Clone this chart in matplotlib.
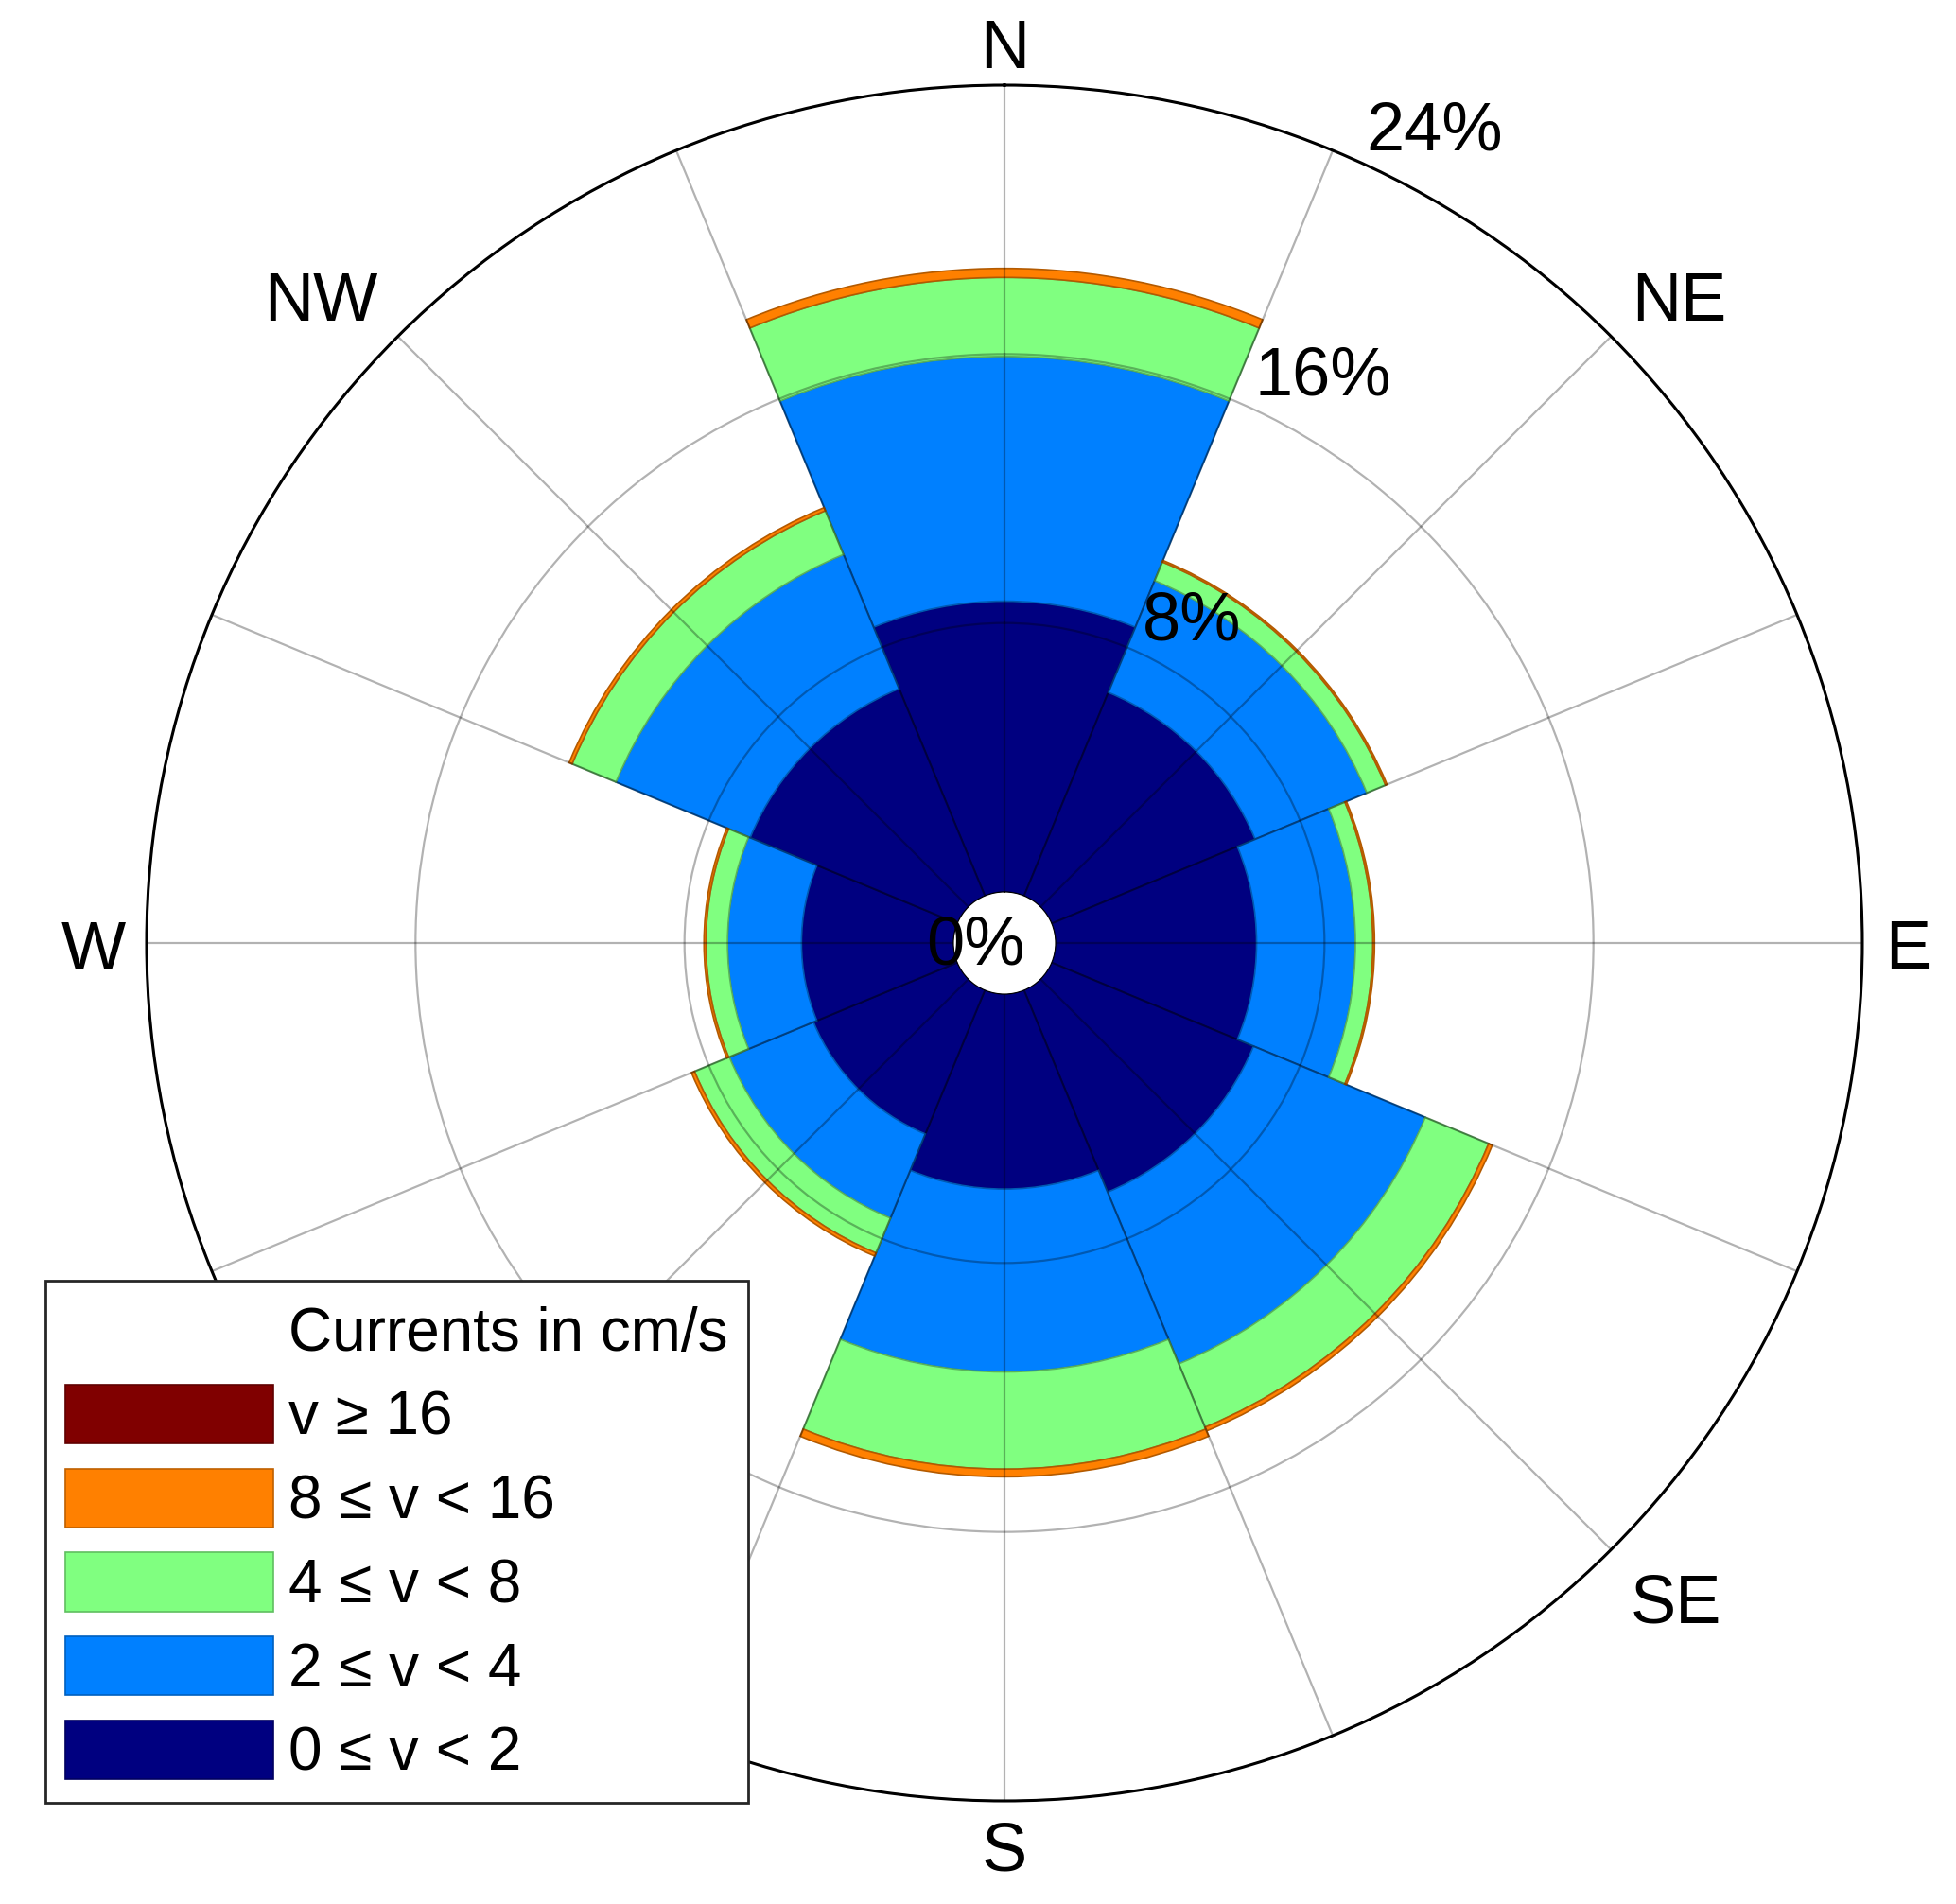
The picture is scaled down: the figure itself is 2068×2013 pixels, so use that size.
import numpy as np
import matplotlib
matplotlib.use("Agg")
import matplotlib.pyplot as plt
from matplotlib.patches import Patch
from matplotlib.colors import to_rgb

plt.rcParams['font.family'] = ['Liberation Sans', 'DejaVu Sans']

# ---- data (percent of observations per direction and speed class) ----
directions = ['N', 'NE', 'E', 'SE', 'S', 'SW', 'W', 'NW']
dir_angles = [0, 45, 90, 135, 180, 225, 270, 315]
speed_0_2 = [8.65, 6.55, 5.98, 6.50, 5.80, 4.63, 4.52, 6.67]
speed_2_4 = [7.28, 3.60, 2.94, 5.53, 5.44, 2.71, 2.20, 4.32]
speed_4_8 = [2.35, 0.60, 0.52, 2.04, 2.89, 1.12, 0.64, 1.41]
speed_8_16 = [0.27, 0.05, 0.05, 0.12, 0.23, 0.10, 0.06, 0.10]
speed_16p = [0.0, 0.0, 0.0, 0.0, 0.0, 0.0, 0.0, 0.0]
class_labels = ['0 \u2264 v < 2', '2 \u2264 v < 4', '4 \u2264 v < 8',
                '8 \u2264 v < 16', 'v \u2265 16']
class_colors = ['#000080', '#0080FF', '#80FF80', '#FF8000', '#800000']
r_ticks = [8, 16, 24]
legend_title = 'Currents in cm/s'
# SW label sits under the legend in the reference, so it is not drawn
shown_labels = ['N', 'NE', 'E', 'SE', 'S', 'W', 'NW']

series = [speed_0_2, speed_2_4, speed_4_8, speed_8_16, speed_16p]

W, H = 2068, 2013
fig = plt.figure(figsize=(W / 100, H / 100), dpi=100)
cx, cy, R = 1062, 997, 907
ax = fig.add_axes([(cx - R) / W, 1 - (cy + R) / H, 2 * R / W, 2 * R / H],
                  projection='polar')
ax.set_theta_zero_location('N')
ax.set_theta_direction(-1)
ax.set_ylim(0, 24)
ax.set_rorigin(-1.519)

theta = np.deg2rad(dir_angles)
bottom = np.zeros(len(directions))
for vals, col in zip(series, class_colors):
    vals = np.asarray(vals, dtype=float)
    edge = tuple(np.array(to_rgb(col)) * 0.7)
    lws = np.where(vals > 0, 1.2, 0.0)
    ax.bar(theta, vals, width=np.deg2rad(45), bottom=bottom, color=col,
           edgecolor=edge, linewidth=lws, align='center', zorder=1)
    bottom += vals

ax.set_xticks(np.deg2rad(np.arange(0, 360, 22.5)))
ax.set_xticklabels([])
ax.set_yticks(r_ticks)
ax.set_yticklabels([])
ax.tick_params(length=0)
ax.grid(True, color='k', alpha=0.3, linewidth=1.6)
ax.set_axisbelow(False)
ax.spines['polar'].set_linewidth(2.2)
ax.spines['polar'].set_color('black')
ax.spines['inner'].set_visible(False)

# direction labels (baseline positions in pixels)
lab_pos = {'N': (1062, 72), 'NE': (1775, 339), 'E': (2017, 1024),
           'SE': (1772, 1715), 'S': (1062, 1977), 'SW': (352, 1715),
           'W': (99, 1025), 'NW': (339.5, 339)}
for d in shown_labels:
    x, y = lab_pos[d]
    ax.text(0.5 + (x - cx) / (2 * R), 0.5 - (y - cy) / (2 * R), d,
            transform=ax.transAxes, ha='center', va='baseline',
            fontsize=52, clip_on=False)

# radial labels
for v in r_ticks:
    ax.text(np.deg2rad(24.5), v + 0.4, f'{v}%', ha='left', va='baseline',
            fontsize=52, clip_on=False)
ax.text(0.5 + (979 - cx) / (2 * R), 0.5 - (1020 - cy) / (2 * R), '0%',
        transform=ax.transAxes, ha='left', va='baseline', fontsize=52)

# legend
handles = [Patch(facecolor='none', edgecolor='none', label=legend_title)]
for lab, col in list(zip(class_labels, class_colors))[::-1]:
    handles.append(Patch(facecolor=col,
                         edgecolor=tuple(np.array(to_rgb(col)) * 0.75),
                         linewidth=1.2, label=lab))
leg = fig.legend(handles=handles, loc='upper left',
                 bbox_to_anchor=(47.5 / W, 1 - 1354 / H),
                 bbox_transform=fig.transFigure, borderaxespad=0,
                 fontsize=46, handlelength=3.45, handleheight=1.12,
                 handletextpad=0.25, borderpad=0.33, labelspacing=0.36,
                 frameon=True, fancybox=False, edgecolor='#262626',
                 framealpha=1)
leg.get_frame().set_linewidth(2)

fig.savefig('out.png', dpi=100)
